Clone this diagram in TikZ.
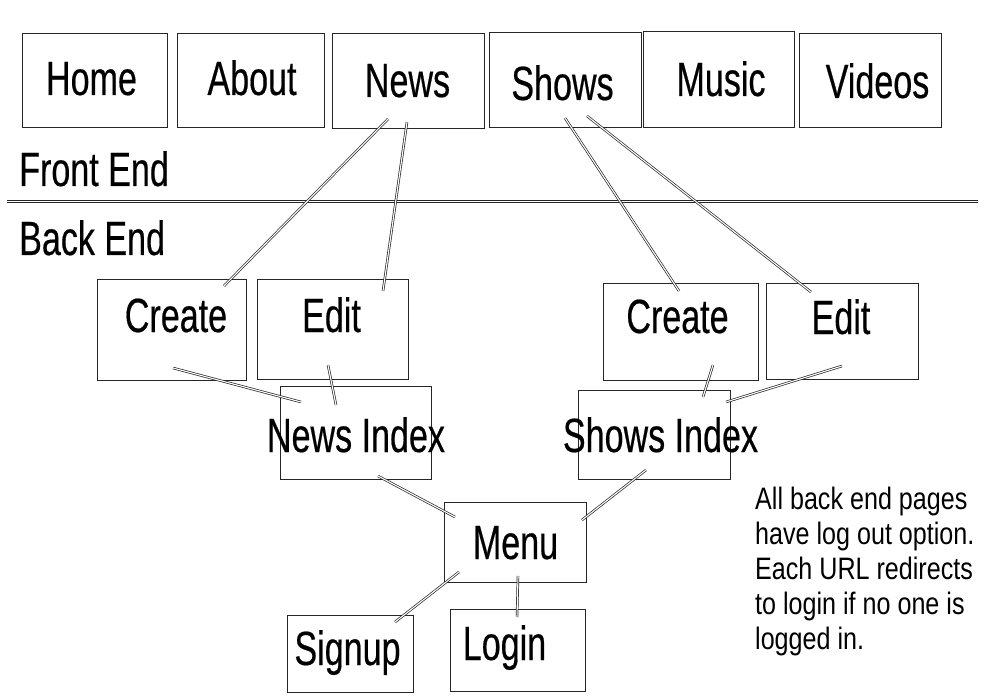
\documentclass[tikz,border=0pt]{standalone}
\usepackage{fontspec}
\usepackage{tikz}

\newfontfamily\bigfont{Liberation Sans}[FakeStretch=0.71,FakeBold=0.4]
\newfontfamily\notefont{Liberation Sans}[FakeStretch=0.81]

\tikzset{
  box/.style={draw=black!85, line width=0.9pt, inner sep=0pt, outer sep=0pt},
  lbl/.style={anchor=base, inner sep=0pt, font=\bigfont\fontsize{48}{56}\selectfont},
  link/.style={draw=black!85, line width=0.7pt, double, double distance=1.1pt},
}

\begin{document}
\begin{tikzpicture}[x=1pt,y=-1pt]
  \useasboundingbox (0,0) rectangle (1000,700);

  % Front End
  \node[box, minimum width=145, minimum height=94] (home)   at (94.5,80)  {};
  \node[box, minimum width=147, minimum height=94] (about)  at (250.5,80) {};
  \node[box, minimum width=152, minimum height=95] (news)   at (408,80.5) {};
  \node[box, minimum width=152, minimum height=95] (shows)  at (565,79.5) {};
  \node[box, minimum width=151, minimum height=96] (music)  at (718.5,79) {};
  \node[box, minimum width=142, minimum height=94] (videos) at (870,80)   {};

  \node[lbl] (hometext)   at (91.5,95)  {Home};
  \node[lbl] (abouttext)  at (252,95)   {About};
  \node[lbl] (newstext)   at (407.5,97) {News};
  \node[lbl] (showstext)  at (562.5,100) {Shows};
  \node[lbl] (musictext)  at (721,96)   {Music};
  \node[lbl] (videostext) at (877.5,98) {Videos};

  \node[lbl, anchor=base west] (fronttext) at (19,186) {Front End};
  \coordinate (divleft)  at (7,201.5);
  \coordinate (divright) at (978,201.5);
  \draw[link] (divleft) -- (divright);
  \node[lbl, anchor=base west] (backtext) at (19,255) {Back End};

  % Back End
  \node[box, minimum width=149, minimum height=101] (ncreate) at (171.5,329.5) {};
  \node[box, minimum width=151, minimum height=100] (nedit)   at (332.5,329)   {};
  \node[box, minimum width=151, minimum height=93]  (nindex)  at (355.5,432.5) {};
  \node[box, minimum width=155, minimum height=97]  (screate) at (680.5,331.5) {};
  \node[box, minimum width=152, minimum height=96]  (sedit)   at (842,331)     {};
  \node[box, minimum width=152, minimum height=89]  (sindex)  at (654,434.5)   {};
  \node[box, minimum width=142, minimum height=80]  (menu)    at (515,542)     {};
  \node[box, minimum width=126, minimum height=77]  (signup)  at (350,653.5)   {};
  \node[box, minimum width=135, minimum height=82]  (login)   at (517.5,650)   {};

  \node[lbl] (ncreatetext) at (176,332)   {Create};
  \node[lbl] (nedittext)   at (331.5,332) {Edit};
  \node[lbl] (nindextext)  at (356,452)   {News Index};
  \node[lbl] (screatetext) at (677.5,333) {Create};
  \node[lbl] (sedittext)   at (841,334)   {Edit};
  \node[lbl] (sindextext)  at (660.5,452) {Shows Index};
  \node[lbl] (menutext)    at (515.5,559) {Menu};
  \node[lbl] (signuptext)  at (347.5,665) {Signup};
  \node[lbl] (logintext)   at (504.5,660) {Login};

  % Verbindungen
  \draw[link] ([shift={(-20,38.5)}]news.center)  -- ([shift={(52.5,-43.5)}]ncreate.center);
  \draw[link] ([shift={(-1,41.5)}]news.center)   -- ([shift={(50.5,-38)}]nedit.center);
  \draw[link] ([shift={(0,38.5)}]shows.center)   -- ([shift={(-1.5,-40.5)}]screate.center);
  \draw[link] ([shift={(22,36.5)}]shows.center)  -- ([shift={(-31,-39)}]sedit.center);
  \draw[link] ([shift={(1.5,38.5)}]ncreate.center) -- ([shift={(-54.5,-30.5)}]nindex.center);
  \draw[link] ([shift={(-4.5,36)}]nedit.center)  -- ([shift={(-19.5,-27.5)}]nindex.center);
  \draw[link] ([shift={(22.5,43.5)}]nindex.center) -- ([shift={(-60,-25)}]menu.center);
  \draw[link] ([shift={(32.5,33.5)}]screate.center) -- ([shift={(49,-37.5)}]sindex.center);
  \draw[link] ([shift={(0,35)}]sedit.center)     -- ([shift={(72,-32.5)}]sindex.center);
  \draw[link] ([shift={(-8,35.5)}]sindex.center) -- ([shift={(67,-22)}]menu.center);
  \draw[link] ([shift={(-56,30)}]menu.center)    -- ([shift={(45,-31.5)}]signup.center);
  \draw[link] ([shift={(3,34)}]menu.center)      -- ([shift={(-0.5,-33)}]login.center);

  \node[anchor=north west, inner sep=0pt, align=left,
        font=\notefont\fontsize{31}{35.2}\selectfont] (note) at (755,486.5)
    {All back end pages\\have log out option.\\Each URL redirects\\to login if no one is\\logged in.};

\end{tikzpicture}
\end{document}
